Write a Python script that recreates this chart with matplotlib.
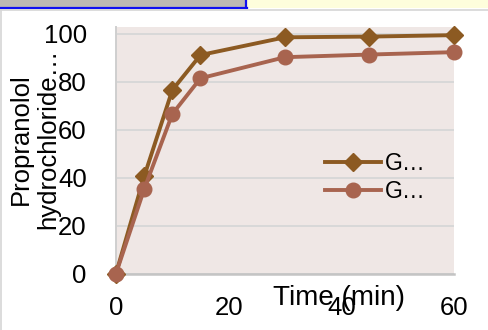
import matplotlib
matplotlib.use("Agg")
import matplotlib.pyplot as plt
from matplotlib.patches import Rectangle
from matplotlib.lines import Line2D

# Release data
time_min = [0, 5, 10, 15, 30, 45, 60]
series_a = [0, 40.5, 76.6, 91.2, 98.6, 98.9, 99.5]
series_b = [0, 35.2, 66.6, 81.5, 90.3, 91.4, 92.4]
legend_labels = ["G…", "G…"]
x_ticks = [0, 20, 40, 60]
y_ticks = [0, 20, 40, 60, 80, 100]

color_a = "#8C5A22"
color_b = "#A8644F"

plt.rcParams["font.family"] = ["Liberation Sans", "DejaVu Sans"]
FS = 18.5

W, H = 489, 330
fig = plt.figure(figsize=(W / 100, H / 100), dpi=100)
fig.patch.set_facecolor("white")

# window chrome strip along the top
fig.patches.append(Rectangle((0, 1 - 8 / H), 1, 8 / H, transform=fig.transFigure,
                             facecolor="#FEFEDC", edgecolor="none", zorder=0))
fig.patches.append(Rectangle((0, 1 - 8 / H), 246 / W, 8 / H, transform=fig.transFigure,
                             facecolor="#BDB9B3", edgecolor="none", zorder=1))
fig.lines.append(Line2D([0, 247 / W], [1 - 7.5 / H, 1 - 7.5 / H], transform=fig.transFigure,
                        color="#1010F0", lw=1.6, zorder=2))
fig.lines.append(Line2D([246.5 / W, 246.5 / W], [1 - 8 / H, 1], transform=fig.transFigure,
                        color="#1010F0", lw=1.6, zorder=2))
fig.lines.append(Line2D([0, 1], [1 - 9.5 / H, 1 - 9.5 / H], transform=fig.transFigure,
                        color="#D6D6D6", lw=1.2, zorder=2))
fig.lines.append(Line2D([1 / W, 1 / W], [0, 1 - 9.5 / H], transform=fig.transFigure,
                        color="#D6D6D6", lw=1.2, zorder=2))

left, right = 116 / W, 454 / W
bottom, top = 1 - 273.5 / H, 1 - 27 / H
ax = fig.add_axes([left, bottom, right - left, top - bottom])
ax.set_facecolor("#EFE7E5")

ax.set_xlim(0, 60)
ax.set_ylim(0, 102.9)
ax.set_xticks(x_ticks)
ax.set_yticks(y_ticks)
ax.tick_params(axis="both", length=0, labelsize=FS)
ax.tick_params(axis="y", pad=21)
ax.tick_params(axis="x", pad=16)
ax.grid(axis="y", color="#D8D8D8", lw=1.4)
ax.set_axisbelow(True)

for s in ["top", "right"]:
    ax.spines[s].set_visible(False)
ax.spines["left"].set_color("#CFCFCF")
ax.spines["left"].set_linewidth(1.4)
ax.spines["bottom"].set_color("#C4C4C4")
ax.spines["bottom"].set_linewidth(1.8)

ax.plot(time_min, series_a, color=color_a, lw=2.8, marker="D", ms=9.5,
        label=legend_labels[0], clip_on=False, zorder=3)
ax.plot(time_min, series_b, color=color_b, lw=2.8, marker="o", ms=10.5,
        label=legend_labels[1], clip_on=False, zorder=4)

ax.legend(loc="upper left", bbox_to_anchor=(325 / W, 1 - 152 / H),
          bbox_transform=fig.transFigure, frameon=False, fontsize=16.5,
          handlelength=2.45, handletextpad=0.15, labelspacing=0.22,
          borderpad=0, borderaxespad=0)

fig.text(34.5 / W, 1 - 139 / H, "Propranolol\nhydrochloride…", rotation=90,
         ha="center", va="center", multialignment="center", fontsize=FS,
         linespacing=1.2)
fig.text(339 / W, 1 - 298 / H, "Time (min)", ha="center", va="center", fontsize=20)

fig.savefig("out.png", dpi=100)
